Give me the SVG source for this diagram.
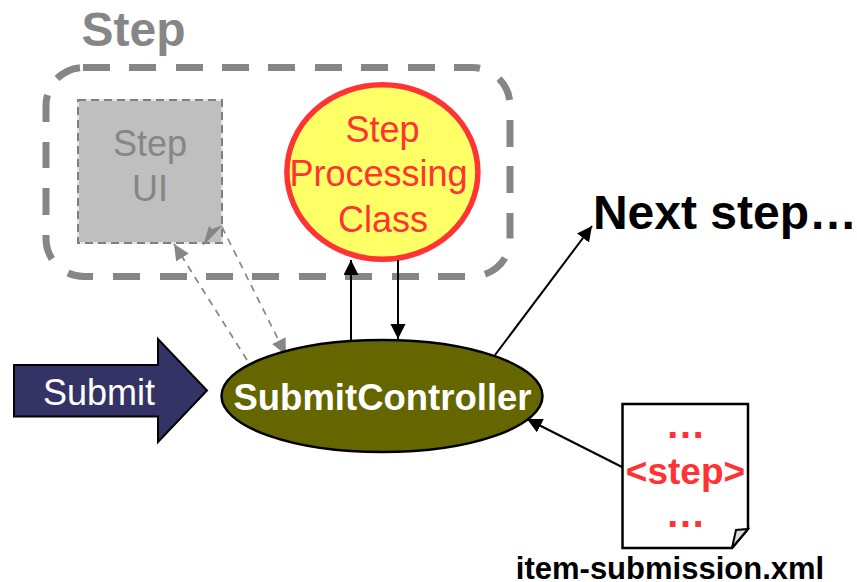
<svg xmlns="http://www.w3.org/2000/svg" width="857" height="582" viewBox="0 0 857 582">
<style>
text{font-family:"Liberation Sans",Arial,sans-serif;text-anchor:middle}
.c{fill:none;stroke:#000;stroke-width:2}
.g{fill:none;stroke:#868686;stroke-width:1.7;stroke-dasharray:7 6}
</style>
<defs>
<marker id="a" markerUnits="userSpaceOnUse" markerWidth="16" markerHeight="16" refX="15" refY="7.500" orient="auto"><path d="M0 0L15 7.500L0 15Z" fill="#000"/></marker>
<marker id="b" markerUnits="userSpaceOnUse" markerWidth="18" markerHeight="16" refX="16" refY="7.500" orient="auto"><path d="M0 0L16 7.500L0 15Z" fill="#868686"/></marker>
</defs>
<rect width="857" height="582" fill="#fff"/>
<g id="step-group">
<text x="133.500" y="46" font-size="48" font-weight="bold" fill="#868686">Step</text>
<path fill="none" stroke="#868686" stroke-width="7" d="M83 67.500H110M129 67.500H156M176 67.500H203M222 67.500H249M268 67.500H295M315 67.500H342M361 67.500H388M408 67.500H435M454 67.500H472A38 38 0 0 1 480 68.300M499 78.600A38 38 0 0 1 509.600 100M510 120V147M510 166V193M510 213V238.500M505 258A38 38 0 0 1 485 274.200M465 276.500H438M419 276.500H392M372 276.500H345M326 276.500H299M279 276.500H252M233 276.500H206M187 276.500H160M140 276.500H113M93 276.500H84A38 38 0 0 1 68 273M52 259A38 38 0 0 1 46 238.500V235M46 215V188M46 168V142M46 122V105.500A38 38 0 0 1 47.500 95M57 78.600A38 38 0 0 1 80 67.700"/>
</g>
<g id="step-ui">
<rect x="78" y="100" width="144" height="143" fill="#bfbfbf" stroke="#e4e4e4" stroke-width="2"/>
<rect x="78" y="100" width="144" height="143" fill="none" stroke="#7f7f7f" stroke-width="2" stroke-dasharray="8 5"/>
<text x="150" y="156" font-size="36" fill="#868686">Step</text>
<text x="150" y="201" font-size="36" fill="#868686">UI</text>
</g>
<g id="step-processing-class">
<ellipse cx="382.400" cy="172" rx="95.500" ry="87.300" fill="#ffff66" stroke="#ff3333" stroke-width="5.500"/>
<text x="382.500" y="142" font-size="36" fill="#ff3333">Step</text>
<text x="378.500" y="186" font-size="36" fill="#ff3333">Processing</text>
<text x="383" y="231.500" font-size="36" fill="#ff3333">Class</text>
</g>
<g id="connectors">
<path class="c" d="M351 340L351 260" marker-end="url(#a)"/>
<path class="c" d="M398 260L398 339" marker-end="url(#a)"/>
<path class="c" d="M495 355L592 226" marker-end="url(#a)"/>
<path class="c" d="M622 467L527 419" marker-end="url(#a)"/>
<path class="g" d="M247 360L174 244" marker-end="url(#b)"/>
<path class="g" d="M222 227L286 355" marker-end="url(#b)"/>
<path d="M203 246L209 226L212 229L223 225Z" fill="#868686"/>
</g>
<g id="submit">
<path d="M14 365H158V339L207 390.500L158 442V416.500H14Z" fill="#333366" stroke="#000" stroke-width="2"/>
<text x="99" y="405" font-size="36" fill="#fff">Submit</text>
</g>
<g id="submit-controller">
<ellipse cx="382" cy="396" rx="160.500" ry="56" fill="#666600" stroke="#000" stroke-width="2.500"/>
<text x="382.500" y="410" font-size="36.500" font-weight="bold" fill="#fff">SubmitController</text>
</g>
<g id="next-step">
<text x="725" y="229" font-size="48" font-weight="bold" fill="#000">Next step…</text>
</g>
<g id="xml-file">
<path d="M622.500 404H748V529L732 548H622.500Z" fill="#fff" stroke="#000" stroke-width="2.500"/>
<path d="M732 548L736 530L748 529Z" fill="#dcdcdc" stroke="#000" stroke-width="2"/>
<text x="685.500" y="438" font-size="40" font-weight="bold" fill="#ff3333">…</text>
<text x="685.500" y="484" font-size="37" font-weight="bold" fill="#ff3333">&lt;step&gt;</text>
<text x="685.500" y="527" font-size="40" font-weight="bold" fill="#ff3333">…</text>
<text x="670" y="579" font-size="31" font-weight="bold" fill="#000">item-submission.xml</text>
</g>
</svg>
